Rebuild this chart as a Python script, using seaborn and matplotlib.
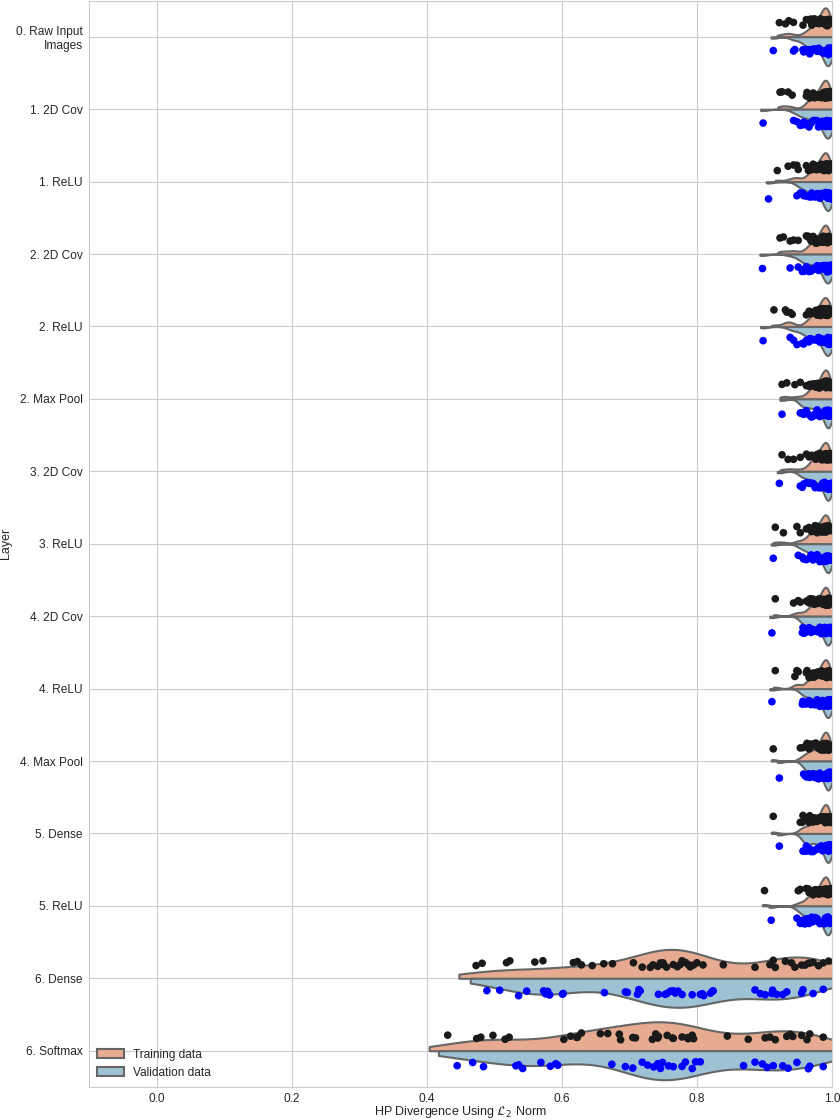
import matplotlib
matplotlib.use("Agg")
import matplotlib.pyplot as plt
import numpy as np
import pandas as pd
import seaborn as sns

layers = ["0. Raw Input\nImages", "1. 2D Cov", "1. ReLU", "2. 2D Cov", "2. ReLU",
          "2. Max Pool", "3. 2D Cov", "3. ReLU", "4. 2D Cov", "4. ReLU",
          "4. Max Pool", "5. Dense", "5. ReLU", "6. Dense", "6. Softmax"]

# dense block of values close to 1.0 seen in every early layer
train_cluster = [0.962, 0.966, 0.969, 0.972, 0.974, 0.976, 0.978, 0.979, 0.981, 0.982,
                 0.983, 0.984, 0.985, 0.986, 0.987, 0.988, 0.988, 0.989, 0.990, 0.990,
                 0.991, 0.991, 0.992, 0.992, 0.993, 0.993, 0.994, 0.994, 0.995, 0.995,
                 0.996, 0.997, 0.998, 0.999]
val_cluster = [0.958, 0.962, 0.966, 0.969, 0.972, 0.975, 0.978, 0.980, 0.982, 0.984,
               0.986, 0.988, 0.989, 0.990, 0.991, 0.992, 0.993, 0.993, 0.994, 0.994,
               0.995, 0.995, 0.995, 0.996, 0.996, 0.996, 0.997, 0.997, 0.998, 0.998,
               0.999, 1.000]

# outlying values per layer (training / validation)
train_outliers = [
    [0.922, 0.931, 0.936, 0.943, 0.957, 0.970],
    [0.923, 0.926, 0.935, 0.941, 0.963, 0.967],
    [0.919, 0.935, 0.943, 0.948, 0.950, 0.965, 0.972, 0.978],
    [0.923, 0.928, 0.938, 0.943, 0.950, 0.965, 0.970],
    [0.914, 0.931, 0.933, 0.938, 0.941, 0.967],
    [0.926, 0.933, 0.945, 0.953, 0.967, 0.972],
    [0.926, 0.935, 0.943, 0.953, 0.970, 0.975, 0.978],
    [0.916, 0.928, 0.948, 0.953, 0.965, 0.970, 0.975],
    [0.916, 0.943, 0.950, 0.953, 0.967, 0.972],
    [0.916, 0.945, 0.948, 0.950, 0.963, 0.970, 0.972],
    [0.913, 0.953, 0.957, 0.963, 0.967],
    [0.913, 0.953, 0.956, 0.957, 0.967],
    [0.900, 0.950, 0.953, 0.965, 0.967, 0.972],
]
val_outliers = [
    [0.913, 0.943, 0.945, 0.957, 0.963, 0.967],
    [0.898, 0.943, 0.948, 0.953, 0.957, 0.965],
    [0.906, 0.948, 0.953, 0.957, 0.965, 0.970, 0.978],
    [0.897, 0.938, 0.950, 0.956, 0.957, 0.965],
    [0.898, 0.938, 0.943, 0.948, 0.956, 0.965, 0.967],
    [0.926, 0.953, 0.956, 0.957, 0.970],
    [0.922, 0.953, 0.956, 0.972],
    [0.913, 0.950, 0.956, 0.970, 0.972, 0.978],
    [0.911, 0.956, 0.957, 0.960, 0.972],
    [0.911, 0.956, 0.957, 0.970],
    [0.922, 0.960, 0.963, 0.967],
    [0.922, 0.957, 0.960, 0.963, 0.967],
    [0.910, 0.948, 0.953, 0.956, 0.960, 0.965, 0.970],
]

dense_train = [0.473, 0.482, 0.518, 0.523, 0.560, 0.572, 0.617, 0.623, 0.629, 0.645,
               0.662, 0.675, 0.706, 0.719, 0.731, 0.735, 0.742, 0.746, 0.749, 0.750,
               0.755, 0.765, 0.771, 0.775, 0.778, 0.783, 0.787, 0.790, 0.795, 0.800,
               0.809, 0.839, 0.886, 0.908, 0.913, 0.916, 0.931, 0.940, 0.945, 0.955,
               0.960, 0.965, 0.967, 0.972, 0.980, 0.987, 0.995]
dense_val = [0.489, 0.508, 0.536, 0.548, 0.573, 0.576, 0.579, 0.582, 0.601, 0.602,
             0.663, 0.694, 0.697, 0.712, 0.714, 0.716, 0.743, 0.753, 0.756, 0.761,
             0.765, 0.768, 0.772, 0.778, 0.793, 0.805, 0.808, 0.810, 0.820, 0.823,
             0.824, 0.886, 0.894, 0.901, 0.911, 0.912, 0.918, 0.927, 0.933, 0.955,
             0.957, 0.972, 0.987]
softmax_train = [0.431, 0.474, 0.480, 0.498, 0.516, 0.522, 0.603, 0.613, 0.622, 0.623,
                 0.629, 0.657, 0.668, 0.685, 0.687, 0.705, 0.709, 0.734, 0.739, 0.742,
                 0.743, 0.756, 0.764, 0.765, 0.778, 0.786, 0.787, 0.793, 0.795, 0.845,
                 0.876, 0.901, 0.908, 0.916, 0.933, 0.938, 0.942, 0.955, 0.963, 0.967,
                 0.987]
softmax_val = [0.445, 0.468, 0.484, 0.532, 0.536, 0.542, 0.569, 0.583, 0.591, 0.594,
               0.674, 0.694, 0.705, 0.719, 0.727, 0.736, 0.742, 0.743, 0.746, 0.749,
               0.758, 0.765, 0.778, 0.783, 0.793, 0.798, 0.805, 0.869, 0.886, 0.897,
               0.904, 0.913, 0.927, 0.935, 0.948, 0.965, 0.967, 0.987]

datasets = ["Training data", "Validation data"]
violin_colors = ["#f4a582", "#92c5de"]
point_colors = ["#1a1a1a", "blue"]

# long-form table
rows = []
for name, tr, va in zip(layers[:13], train_outliers, val_outliers):
    rows += [(name, v, datasets[0]) for v in tr + train_cluster]
    rows += [(name, v, datasets[1]) for v in va + val_cluster]
rows += [(layers[13], v, datasets[0]) for v in dense_train]
rows += [(layers[13], v, datasets[1]) for v in dense_val]
rows += [(layers[14], v, datasets[0]) for v in softmax_train]
rows += [(layers[14], v, datasets[1]) for v in softmax_val]
df = pd.DataFrame(rows, columns=["layer", "value", "dataset"])

sns.set_style("whitegrid")
plt.rcParams['font.family'] = ['Liberation Sans', 'DejaVu Sans']
np.random.seed(3)

fig, ax = plt.subplots(figsize=(8.4, 11.2), dpi=100)
fig.subplots_adjust(left=0.106, right=0.9905, bottom=0.0295, top=0.9995)

sns.violinplot(data=df, x="value", y="layer", hue="dataset", order=layers,
               hue_order=datasets, split=True, inner=None, density_norm="width",
               cut=0.5, bw_adjust=0.75, palette=violin_colors, linecolor="#666666",
               linewidth=1.5, ax=ax)
sns.stripplot(data=df, x="value", y="layer", hue="dataset", order=layers,
              hue_order=datasets, dodge=True, jitter=True, palette=point_colors,
              size=5.5, legend=False, ax=ax)

ax.set_xlim(-0.1, 1.0)
ax.set_xticks(np.arange(0, 1.01, 0.2))
ax.yaxis.grid(True)
ax.set_axisbelow(True)
ax.tick_params(labelsize=8.6, pad=1)
ax.set_xlabel(r"HP Divergence Using $\mathcal{L}_2$ Norm", fontsize=9)
ax.set_ylabel("Layer", fontsize=9)
ax.xaxis.set_label_coords(0.5, -0.0155)
ax.yaxis.set_label_coords(-0.104, 0.5)

handles, labels = ax.get_legend_handles_labels()
ax.legend(handles, labels, loc="lower left", frameon=False, fontsize=8.6,
          borderaxespad=0.3, handlelength=2.2)

plt.savefig("out.png", dpi=100, facecolor="white")
